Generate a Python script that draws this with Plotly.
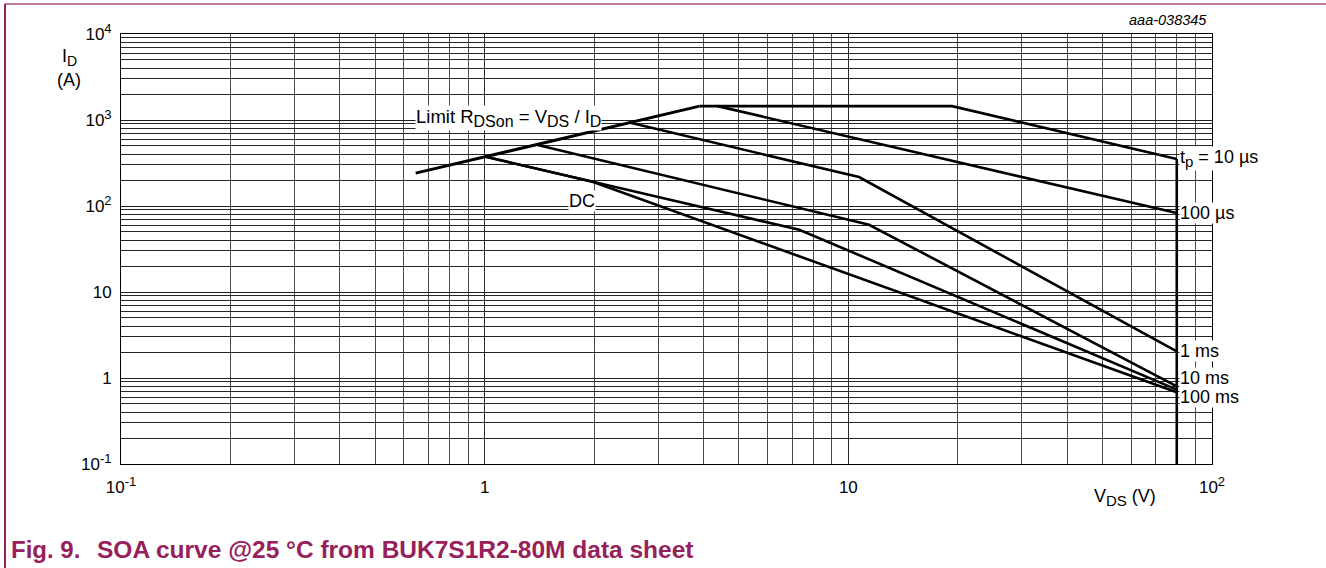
import math
import plotly.graph_objects as go

# ---------------- data ----------------
rdson_v = [0.646, 3.9]
rdson_i = [241, 1450]

tp10us_v = [3.9, 19.3, 80]
tp10us_i = [1450, 1450, 351]

tp100us_v = [4.37, 80]
tp100us_i = [1450, 82.7]

tp1ms_v = [2.50, 10.7, 80]
tp1ms_i = [933, 217, 2.04]

tp10ms_v = [1.39, 11.4, 80]
tp10ms_i = [514, 60.5, 0.80]

tp100ms_v = [1.0, 7.33, 80]
tp100ms_i = [376, 52.9, 0.733]

dc_v = [1.0, 1.98, 80]
dc_i = [376, 191, 0.683]

vmax_v = [80, 80]
vmax_i = [351, 0.1]

x_major = [0.1, 1, 10, 100]
x_major_exp = ["-1", None, None, "2"]
x_major_base = ["10", "1", "10", "10"]
y_major = [0.1, 1, 10, 100, 1000, 10000]
y_major_exp = ["-1", None, None, "2", "3", "4"]
y_major_base = ["10", "1", "10", "10", "10", "10"]

# ---------------- layout geometry ----------------
W, H = 1326, 568
L, R, T, B = 121, 1212, 34, 464


def px(xp):
    return (xp - L) / (R - L)


def py(yp):
    return (B - yp) / (B - T)


FONT = "Liberation Sans, Arial, sans-serif"
BLACK = "#000000"
MAROON = "#96205a"


def sup(t, size=13):
    return "<sup><span style='font-size:%dpx'>%s</span></sup>" % (size, t)


def sub(t, size=15):
    return "<sub><span style='font-size:%dpx'>%s</span></sub>" % (size, t)


def tick_text(bases, exps):
    return [b + (sup(e) if e else "") for b, e in zip(bases, exps)]


fig = go.Figure()

curves = [
    (rdson_v, rdson_i, 3.0),
    (tp10us_v, tp10us_i, 2.6),
    (tp100us_v, tp100us_i, 2.6),
    (tp1ms_v, tp1ms_i, 2.6),
    (tp10ms_v, tp10ms_i, 2.6),
    (tp100ms_v, tp100ms_i, 2.6),
    (dc_v, dc_i, 2.6),
    (vmax_v, vmax_i, 2.6),
]
for xs, ys, w in curves:
    fig.add_trace(go.Scatter(x=xs, y=ys, mode="lines",
                             line=dict(color=BLACK, width=w),
                             showlegend=False, hoverinfo="skip"))


def minor_vals(lo_dec, hi_dec):
    vals = []
    for d in range(lo_dec, hi_dec):
        for k in range(2, 10):
            vals.append(round(k * 10 ** d, 6))
    return vals


fig.update_xaxes(type="log", range=[-1, 2], tickmode="array",
                 tickvals=x_major, ticktext=tick_text(x_major_base, x_major_exp),
                 showgrid=True, gridcolor="#2a2a2a", gridwidth=1,
                 minor=dict(tickmode="array", tickvals=minor_vals(-1, 2),
                            showgrid=True, gridcolor="#4d4d4d", gridwidth=1, ticks=""),
                 showline=True, linecolor=BLACK, linewidth=1, mirror=True,
                 ticks="", zeroline=False, ticklabelstandoff=8,
                 tickfont=dict(family=FONT, size=17, color=BLACK))
fig.update_yaxes(type="log", range=[-1, 4], tickmode="array",
                 tickvals=y_major, ticktext=tick_text(y_major_base, y_major_exp),
                 showgrid=True, gridcolor="#1e1e1e", gridwidth=1,
                 minor=dict(tickmode="array", tickvals=minor_vals(-1, 4),
                            showgrid=True, gridcolor="#262626", gridwidth=1, ticks=""),
                 showline=True, linecolor=BLACK, linewidth=1, mirror=True,
                 ticks="", zeroline=False, ticklabelstandoff=5,
                 tickfont=dict(family=FONT, size=17, color=BLACK))

ann = []


def data_label(text, x, y, xanchor="left", xshift=0, yshift=0, size=18):
    ann.append(dict(text=text, x=math.log10(x), y=math.log10(y), xref="x", yref="y",
                    xanchor=xanchor, yanchor="middle", showarrow=False,
                    xshift=xshift, yshift=yshift,
                    bgcolor="white", borderpad=0,
                    font=dict(family=FONT, size=size, color=BLACK)))


data_label("Limit R" + sub("DSon", 16) + " = V" + sub("DS", 16) + " / I" + sub("D", 16),
           0.642, 1060, size=18.5)
data_label("DC", 1.85, 115, xanchor="center")
data_label("t" + sub("p") + " = 10 µs", 80, 351, xshift=2, yshift=1)
data_label("100 µs", 80, 82.7, xshift=2)
data_label("1 ms", 80, 2.04, xshift=2)
data_label("10 ms", 80, 1.0, xshift=2)
data_label("100 ms", 80, 0.608, xshift=2)


def paper_label(text, xp, yp, xanchor="left", size=18, color=BLACK, bold=False, italic=False):
    t = text
    if bold:
        t = "<b>" + t + "</b>"
    if italic:
        t = "<i>" + t + "</i>"
    ann.append(dict(text=t, x=px(xp), y=py(yp), xref="paper", yref="paper",
                    xanchor=xanchor, yanchor="middle", showarrow=False,
                    font=dict(family=FONT, size=size, color=color)))


paper_label("aaa-038345", 1209, 20, xanchor="right", size=14.5, italic=True)
paper_label("I" + sub("D", 14), 69, 57, xanchor="center", size=18)
paper_label("(A)", 69, 80, xanchor="center", size=18)
paper_label("V" + sub("DS") + " (V)", 1125, 497, xanchor="center", size=18)
paper_label("Fig. 9.", 9, 549, size=24, color=MAROON, bold=True)
paper_label("SOA curve @25 °C from BUK7S1R2-80M data sheet", 95, 549, size=24.5,
            color=MAROON, bold=True)

shapes = [
    dict(type="line", xref="paper", yref="paper", x0=px(5), x1=px(W), y0=py(4), y1=py(4),
         line=dict(color="#c27a9c", width=2)),
    dict(type="line", xref="paper", yref="paper", x0=px(5), x1=px(5), y0=py(4), y1=py(H),
         line=dict(color="#96205a", width=2)),
]

fig.update_layout(width=W, height=H,
                  margin=dict(l=L, r=W - R, t=T, b=H - B, pad=0),
                  paper_bgcolor="white", plot_bgcolor="white",
                  annotations=ann, shapes=shapes,
                  font=dict(family=FONT, color=BLACK))

fig.write_html("out.html", config={"displayModeBar": False},
               post_script="document.body.style.margin='0px';document.body.style.overflow='hidden';")
